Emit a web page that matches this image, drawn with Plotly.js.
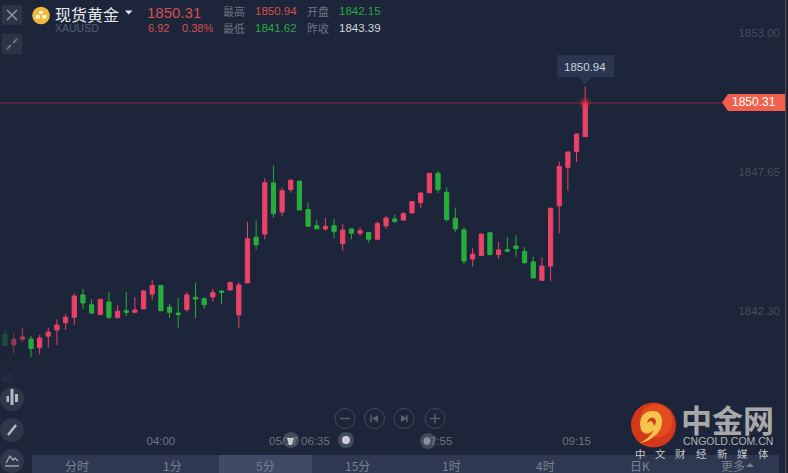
<!DOCTYPE html>
<html><head><meta charset="utf-8">
<script src="https://cdn.plot.ly/plotly-3.0.1.min.js"></script>
<style>html,body{margin:0;padding:0;background:#1c2539;overflow:hidden}#c{width:788px;height:473px}</style>
</head><body><div id="c"></div>
<script>
const opens=[1841.41,1840.99,1841.22,1841.22,1840.89,1841.33,1841.57,1841.85,1842.06,1842.92,1842.54,1842.16,1842.65,1842.04,1842.31,1842.25,1842.38,1842.95,1843.28,1842.45,1842.22,1842.36,1842.83,1842.77,1842.84,1843.07,1843.11,1842.15,1843.38,1845.14,1845.26,1847.23,1846.11,1846.97,1847.30,1846.21,1845.58,1845.46,1845.58,1844.89,1845.46,1845.29,1845.32,1845.06,1845.58,1845.84,1845.80,1846.07,1846.47,1846.85,1847.60,1846.87,1845.87,1845.42,1844.30,1844.43,1845.31,1844.47,1844.66,1844.80,1844.60,1844.19,1843.48,1844.03,1846.35,1847.83,1848.43,1849.01];
const closes=[1840.97,1841.21,1841.30,1840.86,1841.26,1841.49,1841.76,1842.06,1842.88,1842.61,1842.22,1842.75,1842.06,1842.29,1842.25,1842.34,1843.07,1843.28,1842.31,1842.25,1842.16,1842.92,1842.76,1842.54,1843.01,1843.02,1843.40,1843.30,1845.08,1844.85,1847.24,1846.05,1846.93,1847.33,1846.19,1845.56,1845.46,1845.55,1845.35,1845.42,1845.29,1845.39,1845.06,1845.67,1845.88,1845.75,1846.05,1846.51,1846.84,1847.60,1846.97,1845.82,1845.46,1844.22,1844.49,1845.26,1844.47,1844.65,1844.60,1844.70,1844.16,1843.57,1844.03,1846.25,1847.86,1848.42,1849.11,1850.31];
const highs=[1841.59,1841.44,1841.66,1841.34,1841.38,1841.65,1841.98,1842.18,1842.98,1843.15,1842.75,1842.76,1843.03,1842.52,1843.03,1842.83,1843.11,1843.49,1843.30,1842.58,1842.81,1843.03,1843.38,1842.83,1843.15,1843.11,1843.43,1843.40,1845.73,1845.78,1847.41,1847.89,1847.06,1847.37,1847.30,1846.48,1845.80,1845.88,1845.84,1845.65,1845.46,1845.52,1845.33,1845.74,1845.96,1846.02,1846.11,1846.52,1846.88,1847.61,1847.70,1847.06,1846.28,1845.52,1844.72,1845.28,1845.33,1844.96,1845.15,1845.21,1844.76,1844.39,1844.37,1846.28,1848.06,1848.43,1849.14,1850.94];
const lows=[1840.97,1840.67,1841.12,1840.52,1840.63,1840.89,1840.99,1841.57,1841.76,1842.38,1842.18,1842.15,1841.99,1842.04,1842.12,1842.21,1842.38,1842.74,1842.31,1842.04,1841.65,1842.27,1842.02,1842.38,1842.65,1842.57,1843.11,1841.65,1843.38,1844.67,1845.06,1845.89,1845.96,1846.85,1846.19,1845.55,1845.46,1845.38,1845.11,1844.62,1845.06,1845.19,1844.93,1845.06,1845.46,1845.69,1845.76,1846.07,1846.26,1846.85,1846.84,1845.74,1845.34,1844.11,1844.01,1844.43,1844.45,1844.30,1844.60,1844.39,1844.12,1843.57,1843.48,1843.44,1845.29,1846.93,1848.04,1849.01];
const priceTicks=[1853.00,1847.65,1842.30];
const timeTickPos=[18,34,50,66];
const timeTickText=['04:00','05/17 06:35','07:55','09:15'];
const lastPrice=1850.31, dayHigh=1850.94;
const periodLabels=['分时','1分','5分','15分','1时','4时','日K','更多'];
const brandChars=['中','文','财','经','新','媒','体'];

const W=783,H=450;
const X=x=>x/W, Y=y=>(H-y)/H;
const FONT='"Liberation Sans","Noto Sans CJK SC",sans-serif';
const CJK='"Noto Sans CJK SC","Liberation Sans",sans-serif';
const RED='#ea4268',GREEN='#28ad3c';
const shapes=[],ann=[];
function rect(x0,y0,x1,y1,fill,op){shapes.push({type:'rect',xref:'paper',yref:'paper',x0:X(x0),x1:X(x1),y0:Y(y1),y1:Y(y0),fillcolor:fill,opacity:op==null?1:op,line:{width:0}});}
function circ(cx,cy,r,fill,op,stroke){shapes.push({type:'circle',xref:'paper',yref:'paper',x0:X(cx-r),x1:X(cx+r),y0:Y(cy+r),y1:Y(cy-r),fillcolor:fill||'rgba(0,0,0,0)',opacity:op==null?1:op,line:stroke?{width:1,color:stroke}:{width:0}});}
function seg(x0,y0,x1,y1,c,w){shapes.push({type:'line',xref:'paper',yref:'paper',x0:X(x0),x1:X(x1),y0:Y(y0),y1:Y(y1),line:{color:c,width:w||1}});}
function path(cmds,fill,stroke,w){
  let s=cmds.map(c=>{let o=c[0];for(let i=1;i<c.length;i+=2){o+=' '+X(c[i]).toFixed(5)+','+Y(c[i+1]).toFixed(5)+' ';}return o;}).join('')+(fill?'Z':'');
  shapes.push({type:'path',xref:'paper',yref:'paper',path:s,fillcolor:fill||'rgba(0,0,0,0)',line:stroke?{color:stroke,width:w||1}:{width:0}});
}
function txt(t,x,y,size,color,anchor,fam,extra){ann.push(Object.assign({text:t,xref:'paper',yref:'paper',x:X(x),y:Y(y),xanchor:anchor||'left',yanchor:'middle',showarrow:false,borderpad:0,font:{size:size,color:color,family:fam||FONT}},extra||{}));}

[[0,9,.72],[9,14,.48],[14,22,.34],[22,30,.12]].forEach(s=>rect(s[0],325,s[1],362,'#1c2539',s[2]));
shapes.push({type:'line',xref:'paper',yref:'y',x0:0,x1:X(722),y0:lastPrice,y1:lastPrice,line:{color:'#8c2b36',width:1}});
circ(585,103,6,'#ff2a3c',.22);circ(585,103,3,'#ff2a3c',.45);
path([['M',722,102.5],['L',728,94],['L',785,94],['L',785,111],['L',728,111]],'#f1604c');
txt(lastPrice.toFixed(2),754,102.5,12,'#ffffff','center');
seg(785.5,0,785.5,473,'#6a4a40',1);
rect(557,55,614,77,'#2a354f');
path([['M',579,77],['L',591,77],['L',585,85]],'#2a354f');
txt(dayHigh.toFixed(2),584.5,66.5,11.5,'#cdd1d8','center');
rect(2,5,22,25,'#2c3448');seg(7,10,17,20,'#8b93a3',1.6);seg(17,10,7,20,'#8b93a3',1.6);
rect(2,34,22,54,'#2c3448');seg(7,49,11,45,'#7b8393',1.6);seg(13,43,17,39,'#7b8393',1.6);
circ(41,15.5,8.8,'#f0b93a');
rect(39,11,43,14,'#fff3cf');rect(35.5,15,40,18.5,'#fff3cf');rect(42,15,46.5,18.5,'#fff3cf');
txt('现货黄金',53.5,13.5,16,'#e6e8ec','left',CJK);
path([['M',125,10.5],['L',132.5,10.5],['L',128.7,14.5]],'#e6e8ec');
txt('XAUUSD',53.5,28,10.5,'#565e70');
txt('1850.31',146,12.5,15,'#d8504d');
txt('6.92',146.5,28,11,'#d8504d');
txt('0.38%',180.5,28,11,'#d8504d');
txt('最高',222.5,11,11,'#6d7485','left',CJK);
txt('1850.94',253.5,11,11.5,'#d8504d');
txt('开盘',306,11,11,'#6d7485','left',CJK);
txt('1842.15',337.5,11,11.5,'#29a845');
txt('最低',222.5,28,11,'#6d7485','left',CJK);
txt('1841.62',253.5,28,11.5,'#29a845');
txt('昨收',306,28,11,'#6d7485','left',CJK);
txt('1843.39',337.5,28,11.5,'#d5d8de');
txt('45',0,379,10,'#2f374a');
circ(12,399,12,'#2f3749');circ(12,430,12,'#2f3749');circ(12,461,12,'#2f3749');
[[6.5,396,9,402],[10.5,389,13.5,405],[15,394,18,402]].forEach(b=>rect(b[0],b[1],b[2],b[3],'#b4b9c3'));
seg(8,435,16,425,'#b4b9c3',2.4);
path([['M',6,463],['L',10,456],['L',13,460],['L',15,458],['L',18,461]],null,'#b4b9c3',1.2);seg(5,466,19,466,'#b4b9c3',1.2);
[345,374.5,404,435].forEach(x=>circ(x,418.5,10,null,1,'#434b5c'));
seg(340,418.5,350,418.5,'#5a6272',1.4);seg(430,418.5,440,418.5,'#5a6272',1.4);seg(435,413.5,435,423.5,'#5a6272',1.4);
seg(371,415,371,422,'#5a6272',1.4);path([['M',378,415],['L',378,422],['L',372,418.5]],'#5a6272');
seg(407,415,407,422,'#5a6272',1.4);path([['M',401,415],['L',401,422],['L',407,418.5]],'#5a6272');
rect(32,455,779,473,'#2e3951');rect(219,455,312,473,'#3e4a66');
[77,172,265,357,452,545,640,733].forEach((x,i)=>txt(periodLabels[i],x,465,12,'#79818f','center',CJK));
path([['M',746,467],['L',754,467],['L',750,463]],'#79818f');
[[291,440],[346,440],[428,441]].forEach(p=>circ(p[0],p[1],8,'#8a8f9a',.35));
circ(346,440,4,'#c9ccd2');path([['M',287,438],['L',294,438],['L',292,445],['L',289,445]],'#c9ccd2');circ(427,441,3.5,'#9a9ea8',.8);
circ(653.5,425,22.5,'#d5371a');circ(656,421,16.5,'#e4501c',.9);
path([['M',640,424],['Q',641,412,651,411],['Q',661,410,662,420],['Q',663,431,652,438],['Q',647,442,640,443],['Q',650,438,654,430],['Q',646,437,641,430]],'#f6c44e');
path([['M',647,423],['Q',648,417,654,418],['Q',658,421,654,426],['Q',653,421,650,421]],'#d5371a');
txt('中金网',727.5,418,31,'#a8a8a8','center',CJK);
ann[ann.length-1].font.weight=700;
txt('CNGOLD.COM.CN',727.5,441,10.5,'#b5b5b5','center');
[640,660,680,701,722,742,763].forEach((x,i)=>txt(brandChars[i],x,453.5,10.5,'#c4c6ca','center',CJK));

const trace={type:'candlestick',x:opens.map((_,i)=>i),open:opens,high:highs,low:lows,close:closes,
  increasing:{line:{color:RED,width:1},fillcolor:RED},decreasing:{line:{color:GREEN,width:1},fillcolor:GREEN},
  whiskerwidth:0,hoverinfo:'skip',showlegend:false};
shapes.forEach(s=>s.layer='above');
const layout={width:788,height:473,margin:{l:0,r:5,t:0,b:23,pad:0},paper_bgcolor:'#1c2539',plot_bgcolor:'#1c2539',
  showlegend:false,hovermode:false,dragmode:false,shapes:shapes,annotations:ann,
  xaxis:{type:'linear',range:[-0.577,89.84],tickmode:'array',tickvals:timeTickPos,ticktext:timeTickText,ticklabelposition:'inside',ticks:'',
    showgrid:false,zeroline:false,showline:false,rangeslider:{visible:false},tickfont:{size:11.5,color:'#6d7485',family:FONT},fixedrange:true},
  yaxis:{side:'right',range:[1836.95,1854.27],tickmode:'array',tickvals:priceTicks,ticktext:priceTicks.map(v=>v.toFixed(2)),ticklabelposition:'inside',ticks:'',
    showgrid:false,zeroline:false,showline:false,tickfont:{size:11.5,color:'#454d5f',family:FONT},fixedrange:true}};
Plotly.newPlot('c',[trace],layout,{displayModeBar:false,staticPlot:true});
</script></body></html>
